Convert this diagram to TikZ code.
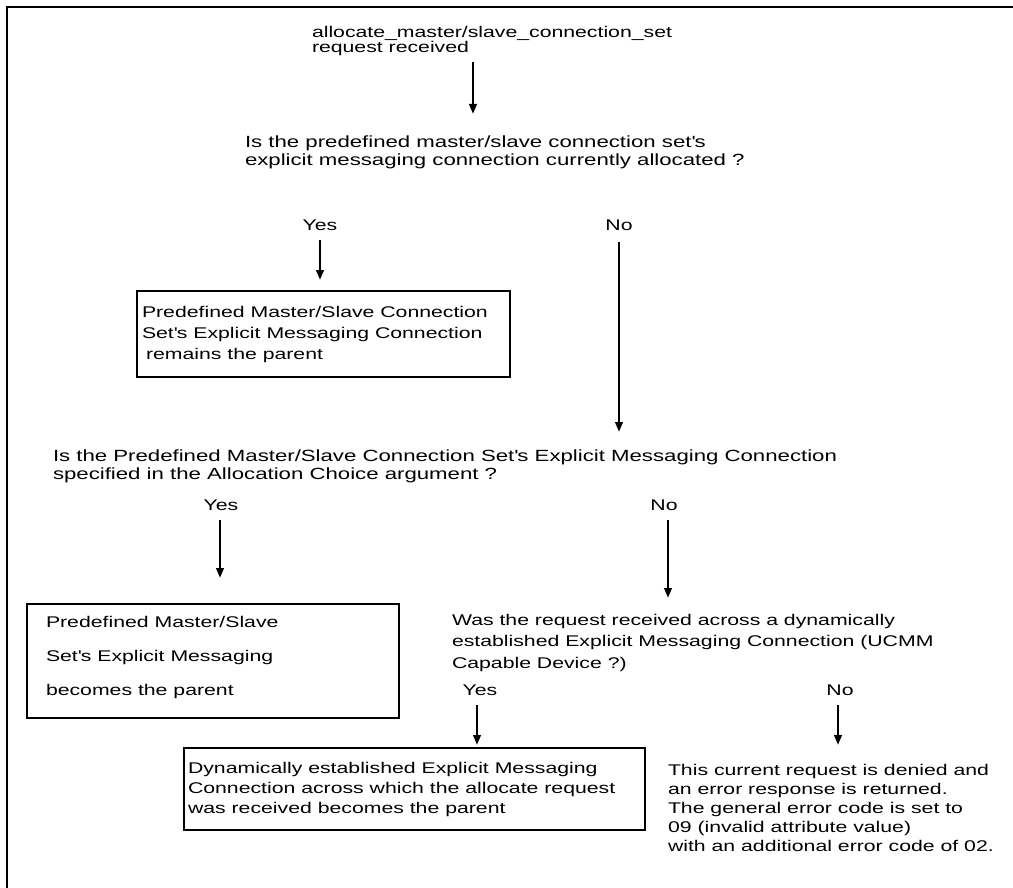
\documentclass[tikz,border=0pt]{standalone}
\usepackage{fontspec}
\setmainfont{Liberation Sans}[FakeStretch=1.37]
\usetikzlibrary{arrows.meta}
\newcommand\apos{\textquotesingle}
\begin{document}
\begin{tikzpicture}[x=1pt, y=-1pt,
  txt/.style={anchor=north west, inner sep=0pt, outer sep=0pt, align=left,
              font=\fontsize{15.5}{#1}\selectfont},
  txt/.default=19,
  qtxt/.style={anchor=north west, inner sep=0pt, outer sep=0pt, align=left,
              font=\fontsize{16.2}{18}\selectfont},
  lbl/.style={inner sep=0pt, outer sep=0pt, font=\fontsize{15.5}{19}\selectfont},
  box/.style 2 args={draw, line width=1.7pt, anchor=north west, inner sep=0pt,
              minimum width=#1pt, minimum height=#2pt},
  arr/.style={line width=2.4pt, -{Triangle[length=10pt,width=7.5pt]}},
]
\useasboundingbox (0,0) rectangle (1013,888);
% page frame
\draw[line width=2pt] (1013,7) -- (7,7) -- (7,888);

% start of the procedure
\node[txt=15] (title) at (312,26)
  {allocate\_master/slave\_connection\_set\\request received};
\coordinate (a1s) at (473,62);
\node[qtxt] (q1) at (245,136)
  {Is the predefined master/slave connection set\apos s\\explicit messaging connection currently allocated ?};
\draw[arr, shorten >=22pt] (a1s) -- (a1s |- q1.north);

% first decision
\node[lbl] (yes1) at (320,225) {Yes};
\node[lbl] (no1) at (619,225) {No};
\node[box={373}{86}] (box1) at (136,290) {};
\node[txt=21] (box1t) at (142,306)
  {Predefined Master/Slave Connection\\Set\apos s Explicit Messaging Connection\\\hspace*{4pt}remains the parent};
\draw[arr, shorten <=10pt, shorten >=10pt] (yes1.south) -- (yes1.south |- box1.north);

% second decision
\node[qtxt] (q2) at (53,450)
  {Is the Predefined Master/Slave Connection Set\apos s Explicit Messaging Connection\\specified in the Allocation Choice argument ?};
\draw[arr, shorten <=12pt, shorten >=18pt] (no1.south) -- (no1.south |- q2.north);

\node[lbl] (yes2) at (221,505) {Yes};
\node[lbl] (no2) at (664,505) {No};
\node[box={372}{114}] (box2) at (26,603) {};
\node[txt=34] (box2t) at (46,616)
  {Predefined Master/Slave\\Set\apos s Explicit Messaging\\becomes the parent};
\draw[arr, shorten <=10pt, shorten >=25pt] ([xshift=-1pt]yes2.south) -- ([xshift=-1pt]yes2.south |- box2.north);

% third decision
\node[txt=21.5] (q3) at (452,614)
  {Was the request received across a dynamically\\established Explicit Messaging Connection (UCMM\\Capable Device ?)};
\draw[arr, shorten <=10pt, shorten >=16pt] ([xshift=4pt]no2.south) -- ([xshift=4pt]no2.south |- q3.north);

\node[lbl] (yes3) at (480,690) {Yes};
\node[lbl] (no3) at (840,690) {No};
\node[box={461}{82}] (box3) at (183,747) {};
\node[txt=20] (box3t) at (188,762)
  {Dynamically established Explicit Messaging\\Connection across which the allocate request\\was received becomes the parent};
\node[txt=19] (err) at (668,764)
  {This current request is denied and\\an error response is returned.\\The general error code is set to\\09 (invalid attribute value)\\with an additional error code of 02.};
\draw[arr, shorten <=10pt, shorten >=2pt] ([xshift=-3pt]yes3.south) -- ([xshift=-3pt]yes3.south |- box3.north);
\draw[arr, shorten <=10pt, shorten >=19pt] ([xshift=-2pt]no3.south) -- ([xshift=-2pt]no3.south |- err.north);
\end{tikzpicture}
\end{document}
